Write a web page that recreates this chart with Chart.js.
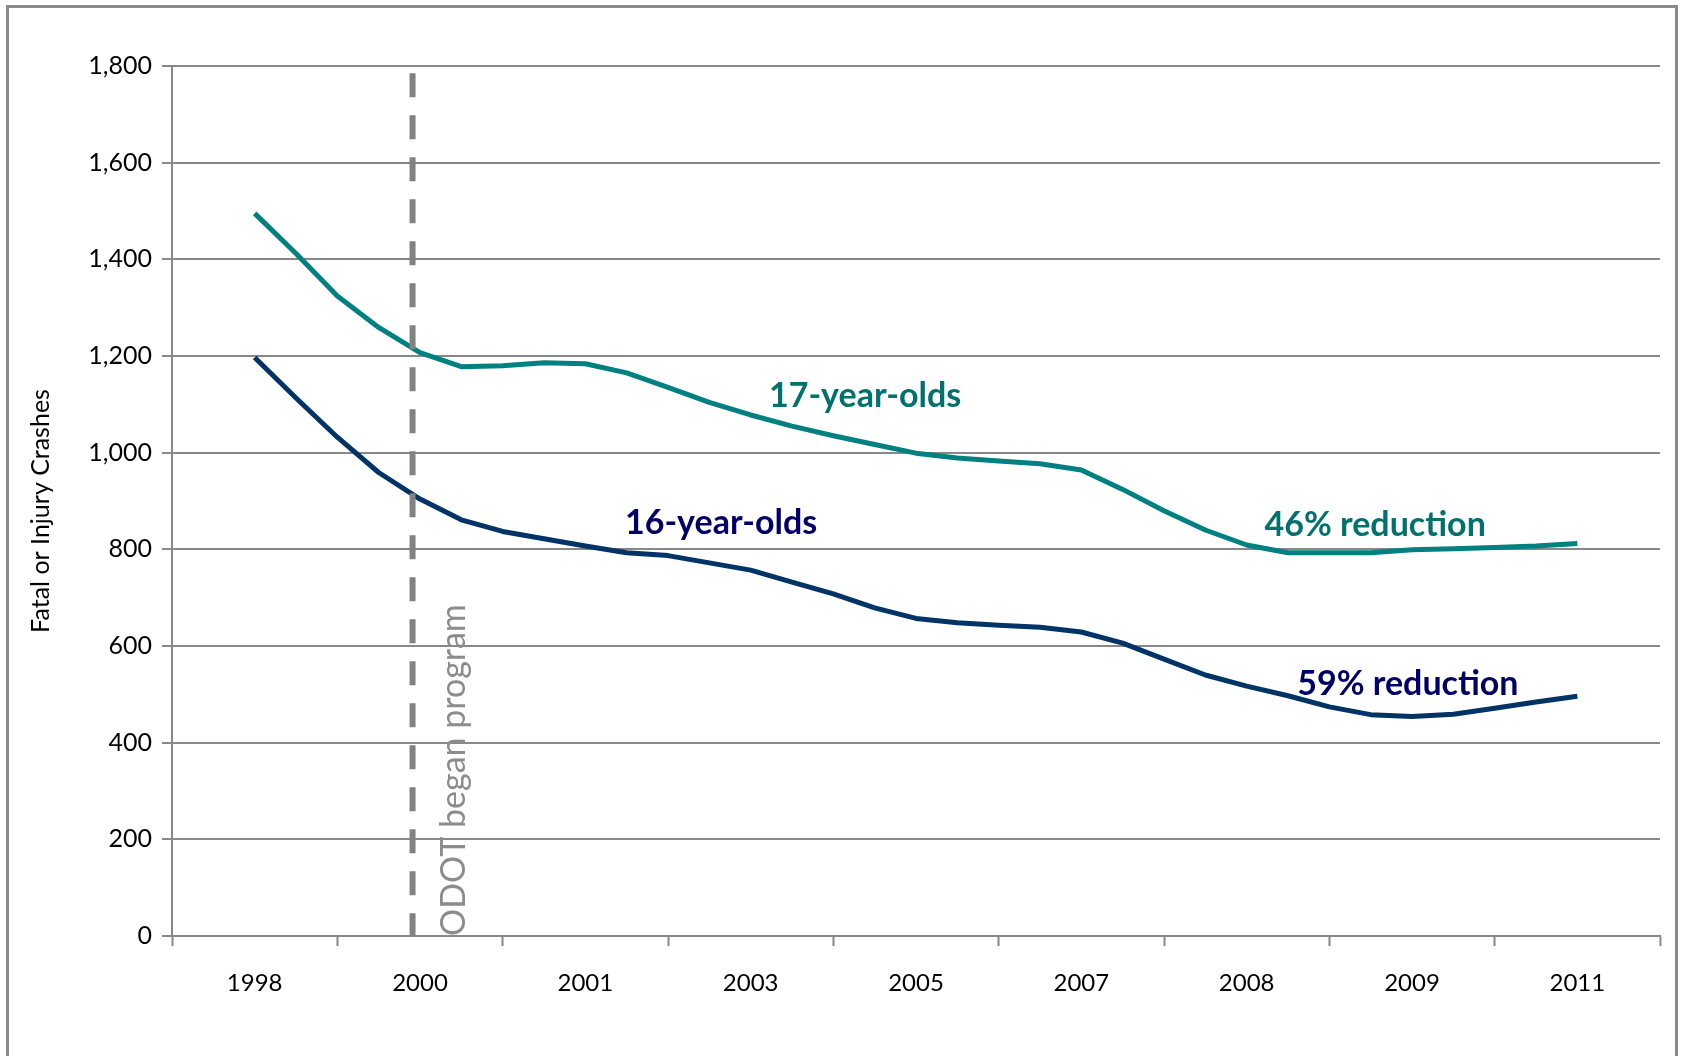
<!DOCTYPE html>
<html>
<head>
<meta charset="utf-8">
<title>Fatal or Injury Crashes, 16- and 17-year-olds</title>
<script src="https://cdn.jsdelivr.net/npm/chart.js@4.4.1/dist/chart.umd.min.js"></script>
<style>
  html, body { margin: 0; padding: 0; background: #fff; overflow: hidden; }
  #wrap { position: relative; width: 1683px; height: 1056px; }
  #frame {
    position: absolute; left: 6px; top: 5px; width: 1666px; height: 1100px;
    border: 3px solid #8a8a8a; pointer-events: none;
  }
</style>
</head>
<body>
<div id="wrap">
  <canvas id="chart" width="1683" height="1056"></canvas>
  <div id="frame"></div>
</div>
<script>
// year labels under the axis, one per group
const xLabels = ["1998", "2000", "2001", "2003", "2005", "2007", "2008", "2009", "2011"];

// readings every quarter of a label group (4 per group, 33 in all)
const seventeen = [
  1495, 1412, 1324, 1259, 1207, 1178, 1180, 1186,
  1184, 1165, 1135, 1104, 1078, 1055, 1035, 1017,
  999, 989, 983, 977, 964, 924, 880, 840,
  809, 793, 793, 793, 799, 801, 804, 807,
  812
];
const sixteen = [
  1197, 1113, 1032, 959, 904, 861, 837, 822,
  807, 793, 787, 772, 757, 732, 708, 679,
  657, 648, 643, 639, 629, 606, 573, 540,
  517, 497, 474, 458, 454, 459, 471, 484,
  496
];

// program start marker
const programStart = 0.955;
const programTop = 1785;

const Y_MAX = 1800;
const Y_STEP = 200;
const Y_TITLE = "Fatal or Injury Crashes";

const TEAL = "#008080";
const TEAL_TEXT = "#00716c";
const NAVY = "#003366";
const NAVY_TEXT = "#000066";
const GRID = "#888888";

const toPoints = (vals) => vals.map((v, i) => ({ x: i / 4, y: v }));

const notes = [
  { text: "17-year-olds", x: 3.692, y: 1095, color: TEAL_TEXT, font: "bold 34px Lato", align: "center" },
  { text: "16-year-olds", x: 2.821, y: 832, color: NAVY_TEXT, font: "bold 34px Lato", align: "center" },
  { text: "46% reduction", x: 6.777, y: 828, color: TEAL_TEXT, font: "bold 34px Lato", align: "center" },
  { text: "59% reduction", x: 6.975, y: 499, color: NAVY_TEXT, font: "bold 34px Lato", align: "center" },
  { text: "ODOT began program", x: 1.274, y: 0, color: "#8c8c8c", font: "34px Lato", align: "left", rotate: true }
];

const notePlugin = {
  id: "notes",
  afterDatasetsDraw(chart) {
    const { ctx, scales } = chart;
    ctx.save();
    notes.forEach(n => {
      const px = scales.x.getPixelForValue(n.x);
      const py = scales.y.getPixelForValue(n.y);
      ctx.save();
      ctx.translate(px, py);
      if (n.rotate) ctx.rotate(-Math.PI / 2);
      ctx.font = n.font;
      ctx.fillStyle = n.color;
      ctx.textAlign = n.align;
      ctx.textBaseline = "alphabetic";
      ctx.fillText(n.text, 0, 0);
      ctx.restore();
    });
    ctx.restore();
  }
};

// y axis title, sits a little below the middle of the axis like the original
const yTitlePlugin = {
  id: "yTitle",
  afterDraw(chart) {
    const { ctx, chartArea } = chart;
    ctx.save();
    ctx.translate(41, (chartArea.top + chartArea.bottom) / 2 + 10);
    ctx.rotate(-Math.PI / 2);
    ctx.font = "25px Lato";
    ctx.fillStyle = "#000";
    ctx.textAlign = "center";
    ctx.textBaseline = "middle";
    ctx.fillText(Y_TITLE, 0, 0);
    ctx.restore();
  }
};

Chart.defaults.font.family = "Lato";
Chart.defaults.color = "#000";

new Chart(document.getElementById("chart"), {
  type: "line",
  data: {
    datasets: [
      {
        label: "ODOT began program",
        data: [{ x: programStart, y: programTop }, { x: programStart, y: 0 }],
        borderColor: "#828282",
        borderWidth: 6,
        borderDash: [24, 18],
        borderCapStyle: "butt",
        pointRadius: 0
      },
      {
        label: "17-year-olds",
        data: toPoints(seventeen),
        borderColor: TEAL,
        borderWidth: 5,
        borderJoinStyle: "round",
        pointRadius: 0,
        tension: 0
      },
      {
        label: "16-year-olds",
        data: toPoints(sixteen),
        borderColor: NAVY,
        borderWidth: 5,
        borderJoinStyle: "round",
        pointRadius: 0,
        tension: 0
      }
    ]
  },
  options: {
    responsive: false,
    animation: false,
    layout: { padding: { top: 66, right: 21, left: 0, bottom: 0 } },
    plugins: {
      legend: { display: false },
      tooltip: { enabled: false }
    },
    scales: {
      x: {
        type: "linear",
        min: -0.5,
        max: xLabels.length - 0.5,
        afterBuildTicks: (scale) => {
          const t = [];
          for (let v = -0.5; v <= xLabels.length - 0.5; v += 0.5) t.push({ value: v });
          scale.ticks = t;
        },
        afterFit: (scale) => { scale.height = 120; },
        grid: {
          drawOnChartArea: false,
          tickLength: 10,
          tickWidth: 2,
          tickColor: (c) => Number.isInteger(c.tick.value) ? "rgba(0,0,0,0)" : GRID
        },
        border: { display: true, color: GRID, width: 2 },
        ticks: {
          autoSkip: false,
          maxRotation: 0,
          minRotation: 0,
          padding: 23,
          font: { size: 24 },
          color: "#000",
          callback: (v) => Number.isInteger(v) ? xLabels[v] : ""
        }
      },
      y: {
        min: 0,
        max: Y_MAX,
        afterFit: (scale) => { scale.width = 172; },
        grid: { color: GRID, lineWidth: 2, tickLength: 10 },
        border: { display: true, color: GRID, width: 2 },
        ticks: {
          stepSize: Y_STEP,
          padding: 10,
          font: { size: 25 },
          color: "#000",
          callback: (v) => v.toLocaleString("en-US")
        }
      }
    }
  },
  plugins: [notePlugin, yTitlePlugin]
});
</script>
</body>
</html>
